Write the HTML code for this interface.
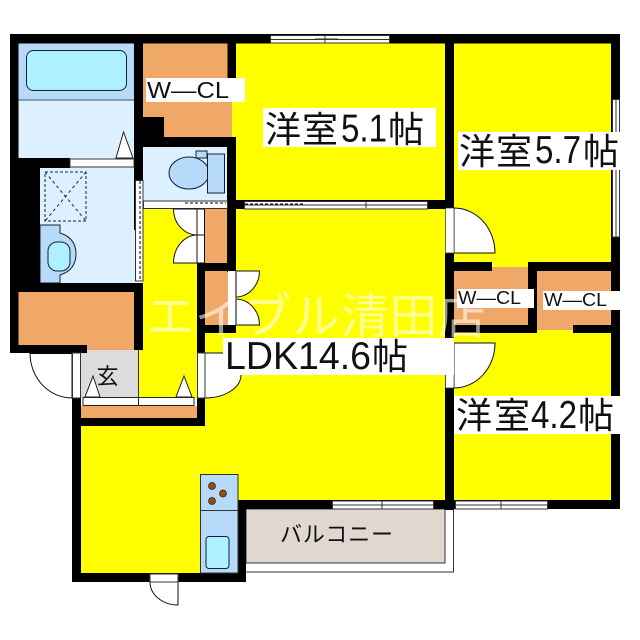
<!DOCTYPE html>
<html><head><meta charset="utf-8"><style>
html,body{margin:0;padding:0;background:#fff}
svg{display:block}
text{font-family:"Liberation Sans","Noto Sans CJK JP",sans-serif;fill:#111}
</style></head><body>
<svg width="640" height="640" viewBox="0 0 640 640" xmlns="http://www.w3.org/2000/svg">
<rect width="640" height="640" fill="#fff"/>
<!-- yellow rooms -->
<rect x="232" y="43" width="214" height="158" fill="#ff0"/>
<rect x="454" y="43" width="158" height="225" fill="#ff0"/>
<rect x="454" y="330" width="158" height="172" fill="#ff0"/>
<rect x="143" y="207" width="55" height="192" fill="#ff0"/>
<rect x="138" y="350" width="60" height="48" fill="#ff0"/>
<rect x="204" y="207" width="242" height="294" fill="#ff0"/>
<rect x="80" y="425" width="166" height="149" fill="#ff0"/>
<rect x="200" y="330" width="246" height="170" fill="#ff0"/>
<!-- orange -->
<rect x="143" y="43" width="85" height="75" fill="#f0a868"/>
<rect x="164" y="100" width="68" height="38" fill="#f0a868"/>
<rect x="18" y="292" width="117" height="58" fill="#f0a868"/>
<rect x="81" y="406" width="116" height="13" fill="#f0a868"/>
<rect x="205" y="209" width="23" height="54" fill="#f0a868"/>
<rect x="205" y="271" width="23" height="55" fill="#f0a868"/>
<rect x="454" y="267" width="75" height="60" fill="#f0a868"/>
<rect x="537" y="271" width="75" height="59" fill="#f0a868"/>
<!-- bath -->
<rect x="18" y="43" width="117" height="115" fill="#dcf0ff"/>
<rect x="18" y="43" width="117" height="57" fill="#b8dafa"/>
<line x1="18" y1="100" x2="134" y2="100" stroke="#456" stroke-width="1"/>
<rect x="26.500" y="50.500" width="100" height="40" rx="7" fill="#aef0ff" stroke="#123" stroke-width="1"/>
<!-- wash -->
<rect x="40" y="167" width="95" height="116" fill="#dcf0ff"/>
<rect x="45" y="172" width="41" height="49" fill="none" stroke="#222" stroke-width="1" stroke-dasharray="3 2"/>
<path d="M45 172L86 221M86 172L45 221" stroke="#222" stroke-width="1" stroke-dasharray="3 3" fill="none"/>
<path d="M40 225H60V233Q76 238 76 254Q76 270 60 275V283H40Z" fill="#b8dafa" stroke="#123" stroke-width="1"/>
<rect x="48" y="242" width="22" height="29" rx="9" fill="#aef0ff" stroke="#123" stroke-width="1"/>
<!-- toilet -->
<rect x="143" y="147" width="85" height="54" fill="#dcf0ff"/>
<rect x="196" y="151" width="11" height="7" fill="#b8dafa" stroke="#123"/>
<ellipse cx="189" cy="173" rx="20" ry="16" fill="#b8dafa" stroke="#123"/>
<rect x="207.500" y="154" width="17" height="39" fill="#b8dafa" stroke="#123"/>
<!-- genkan -->
<rect x="81" y="350" width="57" height="48" fill="#dcdcdc"/>
<line x1="138.500" y1="350" x2="138.500" y2="397" stroke="#333"/>
<!-- balcony -->
<rect x="246" y="509" width="199" height="54" fill="#e0d8d0" stroke="#333"/>
<path d="M246 572H453.500V509" fill="none" stroke="#333" stroke-width="1"/>
<!-- walls -->
<g fill="#000">
<rect x="10" y="34" width="610" height="9.500"/>
<rect x="10" y="34" width="8.500" height="319"/>
<rect x="134" y="34" width="9" height="146"/>
<rect x="134" y="180" width="5" height="50"/>
<rect x="227.500" y="34" width="8.500" height="44"/>
<rect x="227" y="137" width="9" height="135"/>
<rect x="445" y="34" width="9" height="175"/>
<rect x="611" y="34" width="9" height="470"/>
<rect x="143" y="117" width="21" height="20"/>
<rect x="143" y="137" width="93" height="10"/>
<rect x="18" y="158" width="22" height="134"/>
<rect x="18" y="158" width="52" height="10"/>
<rect x="18" y="283" width="125" height="9"/>
<rect x="134" y="283" width="9" height="67"/>
<rect x="10" y="345" width="77" height="8"/>
<rect x="197" y="263" width="39" height="8"/>
<rect x="197" y="263" width="8" height="90"/>
<rect x="197" y="325" width="39" height="8"/>
<rect x="72" y="398" width="9" height="184"/>
<rect x="72" y="418" width="133" height="8"/>
<rect x="197" y="398" width="8" height="28"/>
<rect x="72" y="573" width="174" height="9"/>
<rect x="237" y="500" width="9" height="82"/>
<rect x="237" y="500" width="383" height="9"/>
<rect x="236" y="200" width="218" height="9"/>
<rect x="445" y="253" width="9" height="257"/>
<rect x="454" y="262" width="38" height="9"/>
<rect x="528" y="262" width="92" height="9"/>
<rect x="528" y="262" width="9" height="71"/>
<rect x="454" y="325" width="83" height="8"/>
<rect x="573" y="325" width="47" height="8"/>
<rect x="143" y="207" width="54" height="2"/>
</g>
<!-- windows & sliding -->
<g fill="#fff" stroke="#333" stroke-width="1">
<rect x="270.500" y="35.500" width="119" height="7.500"/>
<rect x="244.500" y="201.500" width="183" height="7.500"/>
<rect x="143.500" y="201" width="84" height="7.500"/>
<rect x="332.500" y="501" width="101" height="8"/>
<rect x="455.500" y="501" width="92" height="8"/>
<rect x="612.500" y="99.500" width="7" height="137.500"/>
<rect x="135.500" y="180.500" width="7.500" height="100.500"/>
</g>
<g stroke="#333" stroke-width="1" fill="none">
<path d="M270 39.500H389M325 36V43M315 39H338"/>
<path d="M244 205H427M366 201V208"/>
<path d="M332 505H433M382 501V509"/>
<path d="M455 505H547M501 501V509"/>
<path d="M616 100V237"/>
</g>
<path d="M245 204H305" stroke="#000" stroke-dasharray="3 2" fill="none"/>
<path d="M185 203H226" stroke="#000" stroke-dasharray="3 2" fill="none"/>
<path d="M140 181V280" stroke="#000" stroke-dasharray="3 2" fill="none"/>
<rect x="70" y="159" width="64" height="8" fill="#fff" stroke="#333"/>
<rect x="83" y="397.500" width="111" height="8" fill="#fff" stroke="#222"/>
<line x1="138.500" y1="397" x2="138.500" y2="406" stroke="#222"/>
<!-- triangles -->
<g fill="#fff" stroke="#222" stroke-width="1">
<path d="M116 158H133L123.500 132Z"/>
<path d="M85 397H100L93 376Z"/>
<path d="M176 397H192L184 376Z"/>
</g>
<!-- doors -->
<g fill="#fff" stroke="#111" stroke-width="1">
<path d="M173.500 209H197V235A24 26 0 0 1 173.500 209Z"/>
<path d="M173.500 263H197V235A24 28 0 0 0 173.500 263Z"/>
<rect x="197" y="209" width="7.500" height="54"/>
<line x1="197" y1="235" x2="205" y2="235"/>
<path d="M236 271H259.500A24 26 0 0 1 236 297Z"/>
<path d="M236 299A24 26 0 0 1 259.500 325H236Z"/>
<rect x="228" y="271" width="8" height="54" stroke="none"/>
<path d="M454 208A41 45 0 0 1 495 253H454Z"/>
<path d="M454 343H495A41 45 0 0 1 454 388Z"/>
<path d="M72 353V398A42 45 0 0 1 30 353Z" stroke-width="1"/>
<path d="M205 353H241V375A36 23 0 0 1 205 398Z" stroke-width="1"/>
<path d="M150 582H178V605A28 23 0 0 1 150 582Z"/>
</g>
<rect x="30" y="353" width="42" height="1" fill="#000"/>
<rect x="72.500" y="353" width="8" height="45" fill="#fff" stroke="#333"/>
<rect x="197.500" y="353" width="7.500" height="45" fill="#fff" stroke="#333"/>
<rect x="445.500" y="208" width="8.500" height="45" fill="#fff" stroke="#333" stroke-width=".7"/>
<rect x="445.500" y="343" width="8.500" height="45" fill="#fff" stroke="#333" stroke-width=".7"/>
<rect x="150" y="574" width="28" height="8" fill="#fff" stroke="#333"/>
<line x1="236" y1="271" x2="236" y2="325" stroke="#555" stroke-width="1.500"/>
<!-- kitchen -->
<rect x="200.500" y="474.500" width="37.500" height="98.500" fill="#b8dafa" stroke="#333"/>
<line x1="200" y1="510.500" x2="238" y2="510.500" stroke="#333"/>
<g fill="#964B14" stroke="#222" stroke-width=".7">
<circle cx="212" cy="486" r="3.500"/><circle cx="223" cy="493.500" r="3.500"/><circle cx="212" cy="501" r="3.500"/>
</g>
<rect x="206" y="536.500" width="23" height="32" rx="3" fill="#aef0ff" stroke="#123"/>
<!-- watermark -->
<text x="146" y="333" font-size="48" textLength="340" style="fill:#fff;fill-opacity:.58">エイブル清田店</text>
<!-- labels -->
<rect x="146" y="78" width="99" height="24" fill="#fff"/>
<rect x="263" y="108" width="173" height="39" fill="#fff"/>
<rect x="458" y="132" width="162" height="38" fill="#fff"/>
<rect x="457" y="289" width="77" height="19" fill="#fff"/>
<rect x="543" y="291" width="77" height="19" fill="#fff"/>
<rect x="223" y="338" width="231" height="37" fill="#fff"/>
<rect x="454" y="396" width="166" height="38" fill="#fff"/>
<text x="147" y="98" font-size="23" textLength="82" lengthAdjust="spacingAndGlyphs">W—CL</text>
<text x="265" y="142" font-size="36">洋</text><text x="302" y="142" font-size="36">室</text>
<text x="341" y="141.500" font-size="39" textLength="46" lengthAdjust="spacingAndGlyphs">5.1</text>
<text x="388" y="142" font-size="36">帖</text>
<text x="459" y="164" font-size="36">洋</text><text x="496" y="164" font-size="36">室</text>
<text x="535" y="163" font-size="39" textLength="46" lengthAdjust="spacingAndGlyphs">5.7</text>
<text x="583" y="164" font-size="36">帖</text>
<text x="456" y="428" font-size="36">洋</text><text x="494" y="428" font-size="36">室</text>
<text x="531" y="428" font-size="39" textLength="46" lengthAdjust="spacingAndGlyphs">4.2</text>
<text x="578" y="428" font-size="36">帖</text>
<text x="458" y="304" font-size="18" textLength="63" lengthAdjust="spacingAndGlyphs">W—CL</text>
<text x="544" y="306" font-size="18" textLength="63" lengthAdjust="spacingAndGlyphs">W—CL</text>
<text x="225" y="369" font-size="39" textLength="146" lengthAdjust="spacingAndGlyphs">LDK14.6</text>
<text x="372" y="369" font-size="36">帖</text>
<text x="96.500" y="384" font-size="22">玄</text>
<text x="280" y="542" font-size="22" textLength="113">バルコニー</text>
</svg>
</body></html>
